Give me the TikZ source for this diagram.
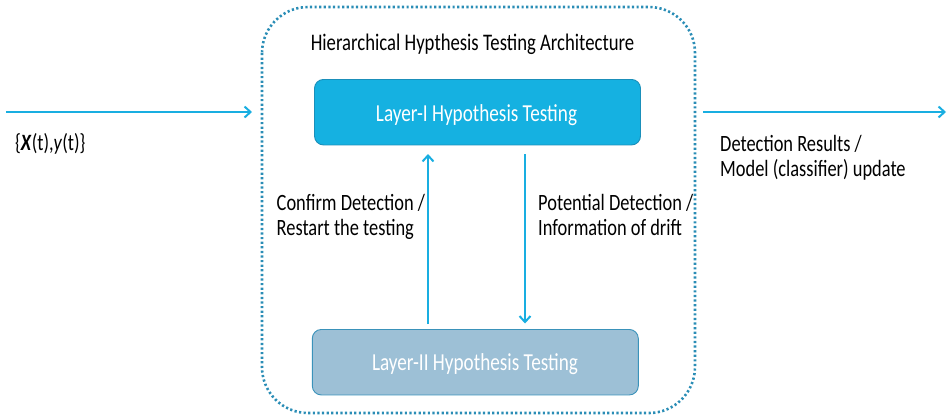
\documentclass[tikz,border=0pt]{standalone}
\usepackage{fontspec}
\setmainfont{Carlito}
\usetikzlibrary{arrows.meta}
\definecolor{flow}{HTML}{19AEE1}
\definecolor{frame}{HTML}{2A8DB6}
\definecolor{layerone}{HTML}{15B1E1}
\definecolor{layeroneedge}{HTML}{1A8FBA}
\definecolor{layertwo}{HTML}{9DC0D6}
\definecolor{layertwoedge}{HTML}{3A92BA}
% tall, narrow lettering
\newcommand{\tallText}[1]{\scalebox{1}[1.27]{#1}}
\tikzset{
  flowarrow/.style={draw=flow, line width=2pt, -{Straight Barb[length=6pt,width=11pt,line width=2pt]}},
  layerbox/.style={rounded corners=9pt, minimum width=326pt, minimum height=65.5pt, line width=0.9pt},
  boxtext/.style={text=white, font=\fontsize{19.2}{22}\selectfont, anchor=base, inner sep=0pt},
  lbl/.style={font=\fontsize{18.4}{22}\selectfont, anchor=base west, inner sep=0pt},
}
\begin{document}
\begin{tikzpicture}[x=1pt, y=-1pt]
\useasboundingbox (0,0) rectangle (947,418);
% dotted frame of the architecture
\draw[frame, line width=2.6pt, dash pattern=on 2.2pt off 2.4pt, rounded corners=46pt] (262,7) rectangle (695,413);
\node[font=\fontsize{18.7}{22}\selectfont, anchor=base, inner sep=0pt] (title) at (472.5,50.5) {\tallText{Hierarchical Hypthesis Testing Architecture}};
% the two testing layers
\node[layerbox, fill=layerone, draw=layeroneedge] (l1) at (477.5,112.2) {};
\node[layerbox, fill=layertwo, draw=layertwoedge] (l2) at (475.3,362.2) {};
\node[boxtext] (l1text) at (476.5,121.5) {\tallText{Layer-I Hypothesis Testing}};
\node[boxtext] (l2text) at (475,370.5) {\tallText{Layer-II Hypothesis Testing}};
% vertical links between layers
\coordinate (upS) at (428,324);
\coordinate (upE) at (428,154);
\coordinate (dnS) at (525,154);
\coordinate (dnE) at (525,323.5);
\draw[flowarrow] (upS) -- (upE);
\draw[flowarrow] (dnS) -- (dnE);
% input and output
\coordinate (inS) at (6,112);
\coordinate (inE) at (252,112);
\coordinate (outS) at (703,112);
\coordinate (outE) at (946,112);
\draw[flowarrow] (inS) -- (inE);
\draw[flowarrow] (outS) -- (outE);
% labels
\node[lbl] (inlbl) at (15,150) {\tallText{\{\textbf{\textit{X}}(t),\textit{y}(t)\}}};
\node[lbl] (outlblA) at (720,151.5) {\tallText{Detection Results /}};
\node[lbl] (outlblB) at (720,176.5) {\tallText{Model (classifier) update}};
\node[lbl] (uplblA) at (276.5,210.5) {\tallText{Confirm Detection /}};
\node[lbl] (uplblB) at (276.5,235.5) {\tallText{Restart the testing}};
\node[lbl] (dnlblA) at (538,210.5) {\tallText{Potential Detection /}};
\node[lbl] (dnlblB) at (538,235.5) {\tallText{Information of drift}};
\end{tikzpicture}
\end{document}
